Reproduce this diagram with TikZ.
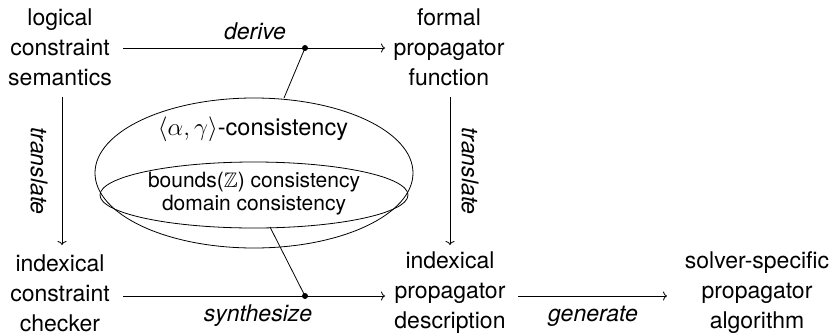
\documentclass[tikz,border=0pt]{standalone}
\usepackage{fontspec}
\usepackage{amssymb}
\setmainfont{TeX Gyre Heros}
\usetikzlibrary{arrows.meta,shapes.geometric}
\begin{document}
\begin{tikzpicture}[x=1pt,y=-1pt,
  line width=0.8pt,
  stage/.style={align=center,font=\fontsize{23}{30}\selectfont,inner sep=0pt},
  lbl/.style={font=\fontsize{23}{26}\selectfont\itshape,inner sep=0pt},
  flow/.style={-{To[length=4pt,width=9pt]}},
  joint/.style={circle,fill=black,inner sep=0pt,minimum size=6pt}]
  \useasboundingbox (0,0) rectangle (833,335);

  % stages of the pipeline
  \node[stage] (sem) at (60,47) {logical\\constraint\\semantics};
  \node[stage] (fun) at (449,47) {formal\\propagator\\function};
  \node[stage] (chk) at (60,293) {indexical\\constraint\\checker};
  \node[stage] (desc) at (450,293) {indexical\\propagator\\description};
  \node[stage] (alg) at (757,293) {solver-specific\\propagator\\algorithm};

  % consistency notions
  \node[draw,ellipse,minimum width=318pt,minimum height=150pt,inner sep=0pt] (outer) at (254,173) {};
  \node[draw,ellipse,minimum width=308pt,minimum height=66pt,inner sep=0pt] (inner) at (254,195) {};
  \node[stage,font=\fontsize{23.5}{30}\selectfont] (ag) at (253,129) {$\langle\alpha,\gamma\rangle$-consistency};
  \node[align=center,font=\fontsize{21}{23}\selectfont,inner sep=0pt] (bd) at (254,194) {bounds($\mathbb{Z}$) consistency\\domain consistency};

  % horizontal flows
  \coordinate (j1) at (305,48);
  \coordinate (j2) at (305,296);
  \coordinate (semE) at (123,48);
  \coordinate (funW) at (385,48);
  \coordinate (chkE) at (123,296);
  \coordinate (descW) at (385,296);
  \coordinate (descE) at (518,296);
  \coordinate (algW) at (667,296);
  \draw[flow] (semE) -- (funW);
  \draw[flow] (chkE) -- (descW);
  \draw[flow] (descE) -- (algW);
  \node[lbl] (ld) at (255,31) {derive};
  \node[lbl] (ls) at (258,316) {synthesize};
  \node[lbl] (lg) at (593,316) {generate};

  % vertical flows
  \coordinate (semS) at (62,97);
  \coordinate (chkN) at (62,245);
  \coordinate (funS) at (450,97);
  \coordinate (descN) at (450,245);
  \draw[flow] (semS) -- (chkN);
  \draw[flow] (funS) -- (descN);
  \node[lbl,rotate=-90] (lt1) at (39,171) {translate};
  \node[lbl,rotate=-90] (lt2) at (470,171) {translate};

  % links from the flows to the consistency notions
  \coordinate (oT) at (284,98);
  \coordinate (iB) at (270,227);
  \draw (j1) -- (oT);
  \draw (j2) -- (iB);
  \node[joint] (d1) at (j1) {};
  \node[joint] (d2) at (j2) {};
\end{tikzpicture}
\end{document}
